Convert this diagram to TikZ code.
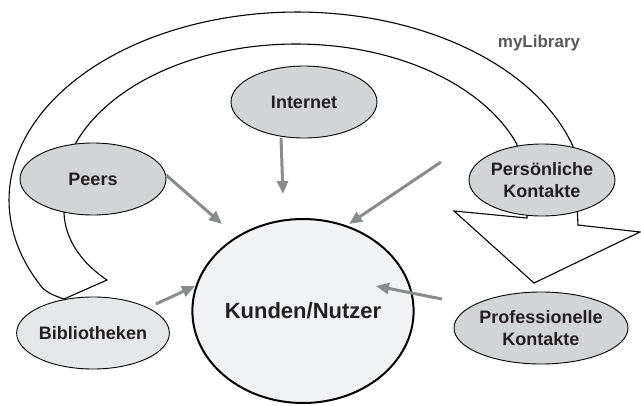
\documentclass[tikz,border=0pt]{standalone}
\usepackage{fontspec}
\setmainfont{Liberation Sans}
\usetikzlibrary{shapes.geometric,arrows.meta}
\definecolor{srcfill}{HTML}{D3D4D6}
\definecolor{libfill}{HTML}{E6E7E8}
\definecolor{kfill}{HTML}{F1F2F3}
\definecolor{arr}{HTML}{8A8B8D}
\definecolor{txt}{HTML}{231F20}
\definecolor{mylibc}{HTML}{58595B}
\begin{document}
\begin{tikzpicture}[x=1pt,y=-1pt,
  src/.style={ellipse,draw=black,line width=0.9pt,fill=srcfill,minimum width=146pt,minimum height=72pt,inner sep=0pt,align=center,font=\fontsize{18}{22}\selectfont\bfseries,text=txt},
  flow/.style={draw=arr,line width=3pt,-{Triangle[length=13pt,width=11pt]}},
  band/.style={draw=black,line width=1.1pt,fill=white,line join=miter}
]
\useasboundingbox (0,0) rectangle (641,405);
% big curved block arrow (myLibrary)
\draw[band] (64,299) .. controls (55,296) and (48,293) .. (42.7,288.3)
  -- plot[domain=208:16.5,samples=90,variable=\t] ({297+288*cos(\t)},{200-188*sin(\t)})
  -- (577,205) -- (578,225) -- (640,232) -- (534,283) -- (454,211) -- (527,218) -- (527,200)
  -- plot[domain=20:160,samples=80,variable=\t] ({296+235*cos(\t)},{196-152*sin(\t)})
  -- (64,213) .. controls (65,238) and (80,262) .. (107,280)
  -- cycle;
\node[text=mylibc,font=\fontsize{17}{20}\selectfont\bfseries] (mylib) at (539,43) {myLibrary};
% nodes
\node[src] (internet) at (304,102) {Internet};
\node[src] (peers) at (93,179) {Peers};
\node[src] (pers) at (542,180) {Persönliche\\Kontakte};
\node[src,fill=libfill] (biblio) at (93,333) {Bibliotheken};
\node[src] (prof) at (541,328) {Professionelle\\Kontakte};
\node[ellipse,draw=black,line width=2pt,fill=kfill,minimum width=190pt,minimum height=184pt,inner sep=0pt,font=\fontsize{22}{26}\selectfont\bfseries,text=txt] (kunden) at (303,311) {Kunden/Nutzer};
% arrow ends
\coordinate (iA) at (281,138); \coordinate (iB) at (283,194);
\coordinate (pA) at (166,175); \coordinate (pB) at (222,224);
\coordinate (kA) at (441,162); \coordinate (kB) at (349,224);
\coordinate (bA) at (156,304); \coordinate (bB) at (195,286);
\coordinate (rA) at (442,299); \coordinate (rB) at (376,286);
\draw[flow] (iA) -- (iB);
\draw[flow] (pA) -- (pB);
\draw[flow] (kA) -- (kB);
\draw[flow] (bA) -- (bB);
\draw[flow] (rA) -- (rB);
\end{tikzpicture}
\end{document}
